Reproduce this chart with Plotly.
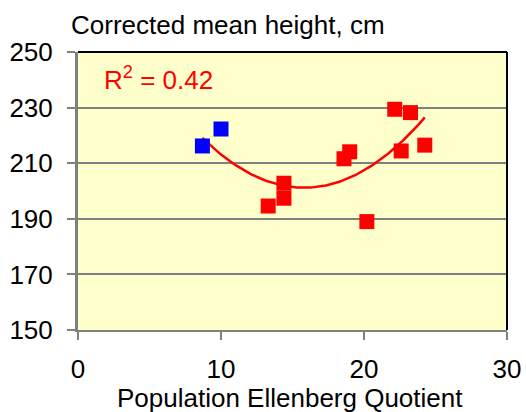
import numpy as np
import plotly.graph_objects as go

blue_x = [8.7, 10.0]
blue_y = [216.2, 222.3]
red_x = [13.3, 14.4, 14.4, 18.6, 19.0, 20.2, 22.15, 22.6, 23.25, 24.25]
red_y = [194.6, 197.4, 202.8, 211.6, 214.1, 189.0, 229.4, 214.4, 228.2, 216.5]
y_ticks = [150, 170, 190, 210, 230, 250]
x_ticks = [0, 10, 20, 30]

all_x = np.array(blue_x + red_x)
all_y = np.array(blue_y + red_y)
coef = np.polyfit(all_x, all_y, 2)
fx = np.linspace(all_x.min(), all_x.max(), 100)
fy = np.polyval(coef, fx)

fig = go.Figure()
fig.add_trace(go.Scatter(x=fx, y=fy, mode="lines", line=dict(color="#FF0000", width=2.5), hoverinfo="skip"))
fig.add_trace(go.Scatter(x=red_x, y=red_y, mode="markers",
                         marker=dict(symbol="square", size=15, color="#FF0000")))
fig.add_trace(go.Scatter(x=blue_x, y=blue_y, mode="markers",
                         marker=dict(symbol="square", size=15, color="#0000FF")))

font = "Liberation Sans, Arial, sans-serif"
TS = 26
fig.update_layout(
    width=526, height=412, showlegend=False,
    margin=dict(l=78, r=19, t=52, b=82),
    paper_bgcolor="white", plot_bgcolor="#FFFFCC",
    font=dict(family=font, size=TS, color="black"),
    xaxis=dict(range=[0, 30], tickvals=x_ticks, showgrid=False, zeroline=False,
               automargin=False,
               showline=True, linecolor="#808080", linewidth=2,
               ticks="outside", ticklen=8, tickcolor="#808080", tickwidth=2,
               ticklabelstandoff=7,
               tickfont=dict(family=font, size=TS, color="black")),
    yaxis=dict(range=[150, 250], tickvals=y_ticks, showgrid=True, gridcolor="#808080", gridwidth=2,
               automargin=False,
               zeroline=False, showline=True, linecolor="#808080", linewidth=3,
               ticks="outside", ticklen=8, tickcolor="#808080", tickwidth=2,
               ticklabelstandoff=9,
               tickfont=dict(family=font, size=TS, color="black")),
    shapes=[
        dict(type="line", xref="paper", yref="paper", x0=0, x1=1, y0=1, y1=1,
             line=dict(color="black", width=2)),
        dict(type="line", xref="paper", yref="paper", x0=1, x1=1, y0=0, y1=1,
             line=dict(color="black", width=2)),
    ],
    annotations=[
        dict(text="Corrected mean height, cm", xref="paper", yref="paper",
             x=-0.022, y=1.097, xanchor="left", yanchor="middle", showarrow=False,
             font=dict(family=font, size=TS, color="black")),
        dict(text="Population Ellenberg Quotient", xref="paper", yref="paper",
             x=0.494, y=-0.245, xanchor="center", yanchor="middle", showarrow=False,
             font=dict(family=font, size=TS, color="black")),
        dict(text="R<sup>2</sup> = 0.42", x=1.7, y=240.3, xref="x", yref="y",
             xanchor="left", yanchor="middle", showarrow=False,
             font=dict(family=font, size=TS, color="#FF0000")),
    ],
)
fig.write_html("out.html")
